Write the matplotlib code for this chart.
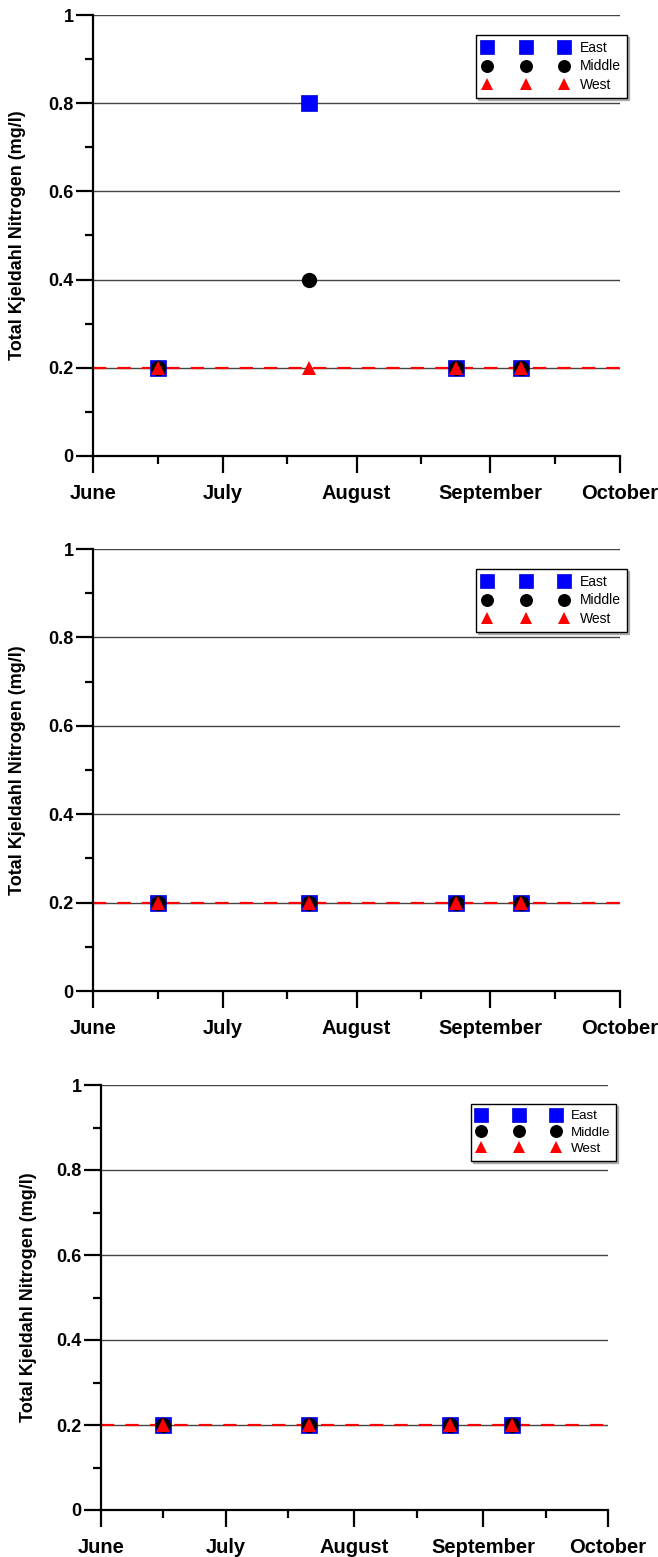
import matplotlib
matplotlib.use("Agg")
import matplotlib.pyplot as plt
import matplotlib.dates as mdates
import numpy as np
from datetime import datetime

plt.rcParams['font.family'] = ['Liberation Sans', 'DejaVu Sans']

# ---- data ----
sample_dates = ["2004-06-16", "2004-07-21", "2004-08-24", "2004-09-08"]
series_labels = ["East", "Middle", "West"]

panel1_east = [0.2, 0.8, 0.2, 0.2]
panel1_middle = [0.2, 0.4, 0.2, 0.2]
panel1_west = [0.2, 0.2, 0.2, 0.2]

panel2_east = [0.2, 0.2, 0.2, 0.2]
panel2_middle = [0.2, 0.2, 0.2, 0.2]
panel2_west = [0.2, 0.2, 0.2, 0.2]

panel3_east = [0.2, 0.2, 0.2, 0.2]
panel3_middle = [0.2, 0.2, 0.2, 0.2]
panel3_west = [0.2, 0.2, 0.2, 0.2]

detection_limit = 0.2
y_ticks = [0, 0.2, 0.4, 0.6, 0.8, 1]
x_start, x_end = "2004-06-01", "2004-10-01"
ylabel = "Total Kjeldahl Nitrogen (mg/l)"

panels = [
    (panel1_east, panel1_middle, panel1_west),
    (panel2_east, panel2_middle, panel2_west),
    (panel3_east, panel3_middle, panel3_west),
]

W, H = 658, 1557
fig = plt.figure(figsize=(W / 100, H / 100), dpi=100)

# axes boxes in pixels: left, right, top(y=1), bottom(y=0)
boxes = [(93, 620, 15, 456), (93, 620, 549, 991), (101, 608, 1085, 1510)]
legend_anchor = [(627, 35), (627, 569), (616, 1104)]
legend_font = [10, 10, 9.6]
ylabel_x = [26, 26, 37]

dates = [datetime.strptime(d, "%Y-%m-%d") for d in sample_dates]
xs = mdates.date2num(dates)
x0 = mdates.date2num(datetime.strptime(x_start, "%Y-%m-%d"))
x1 = mdates.date2num(datetime.strptime(x_end, "%Y-%m-%d"))

styles = [
    dict(marker='s', color='#0000FF', markersize=11.5, markeredgecolor='#0000CC', markeredgewidth=0.5),
    dict(marker='o', color='black', markersize=11, markeredgewidth=0),
    dict(marker='^', color='#FF0000', markersize=10, markeredgewidth=0),
]

for i, (vals, box, la, ylx, lf) in enumerate(zip(panels, boxes, legend_anchor, ylabel_x, legend_font)):
    l, r, t, b = box
    ax = fig.add_axes([l / W, 1 - b / H, (r - l) / W, (b - t) / H])
    for yv in y_ticks[1:]:
        ax.axhline(yv, color='#444444', lw=1.0, zorder=1)
    ax.axhline(detection_limit, color='red', lw=1.6, ls=(0, (6, 5)), zorder=2)
    for v, lab, st in zip(vals, series_labels, styles):
        ax.plot(xs, v, linestyle='none', label=lab, zorder=3, clip_on=False, **st)
    ax.set_xlim(x0, x1)
    ax.set_ylim(0, 1)
    ax.set_yticks(y_ticks)
    ax.set_yticklabels(['%g' % v for v in y_ticks])
    ax.yaxis.set_minor_locator(matplotlib.ticker.MultipleLocator(0.1))
    ax.xaxis.set_major_locator(mdates.MonthLocator())
    ax.xaxis.set_major_formatter(mdates.DateFormatter('%B'))
    ax.xaxis.set_minor_locator(mdates.MonthLocator(bymonthday=16))
    for s in ['top', 'right']:
        ax.spines[s].set_visible(False)
    for s in ['left', 'bottom']:
        ax.spines[s].set_linewidth(1.6)
    ax.tick_params(axis='both', which='major', direction='out', length=12, width=1.6)
    ax.tick_params(axis='both', which='minor', direction='out', length=6, width=1.6)
    ax.tick_params(axis='y', which='major', pad=2, labelsize=13)
    ax.tick_params(axis='x', which='major', pad=8, labelsize=14.5)
    for lbl in ax.get_xticklabels() + ax.get_yticklabels():
        lbl.set_fontweight('bold')
    ax.set_ylabel(ylabel, fontsize=13, fontweight='bold')
    ax.yaxis.set_label_coords(ylx / W, 0.5 * ((1 - b / H) + (1 - t / H)), transform=fig.transFigure)
    leg = ax.legend(loc='upper right', bbox_to_anchor=(la[0] / W, 1 - la[1] / H),
                    bbox_transform=fig.transFigure, borderaxespad=0, numpoints=3,
                    handlelength=6.2, handletextpad=0.8, fontsize=lf, markerscale=0.85,
                    fancybox=False, shadow={'color': '#777777', 'ox': 1.5, 'oy': -1.5}, framealpha=1,
                    edgecolor='black', labelspacing=0.3, borderpad=0.45)
    leg.get_frame().set_linewidth(1.0)

fig.savefig("out.png", dpi=100)
